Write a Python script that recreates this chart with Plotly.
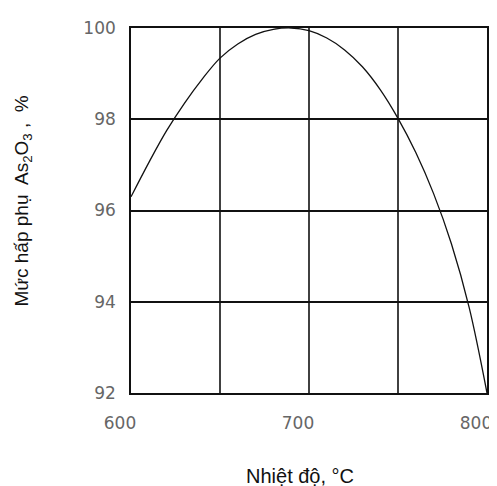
import plotly.graph_objects as go

temperature = [600, 610, 620, 630, 640, 650, 660, 670, 680, 690, 700, 710, 720, 730, 740, 750, 760, 770, 780, 790, 800]
adsorption = [96.3, 97.05, 97.75, 98.35, 98.88, 99.34, 99.65, 99.86, 99.97, 100.0, 99.94, 99.78, 99.52, 99.15, 98.65, 98.02, 97.27, 96.37, 95.27, 93.87, 92.0]

x_ticks = [600, 700, 800]
y_ticks = [92, 94, 96, 98, 100]

fig = go.Figure()
fig.add_trace(go.Scatter(x=temperature, y=adsorption, mode="lines",
                         line=dict(color="#111", width=1.3, shape="spline", smoothing=1.0),
                         showlegend=False, hoverinfo="skip", cliponaxis=False))

tick_font = dict(family="DejaVu Sans, sans-serif", size=17, color="#666")
title_font = dict(family="Liberation Sans, Arial, sans-serif", size=20, color="#111")

fig.update_layout(
    width=489, height=478,
    margin=dict(l=123, r=5, t=20, b=93),
    paper_bgcolor="white", plot_bgcolor="white",
    xaxis=dict(range=[600, 800], tickvals=x_ticks, ticktext=[str(v) for v in x_ticks],
               showgrid=False, zeroline=False, showline=True, linecolor="#111", linewidth=1.6,
               mirror=True, ticks="outside", ticklen=14, tickcolor="rgba(0,0,0,0)",
               ticklabelshift=-11, ticklabeloverflow="allow",
               tickfont=tick_font, fixedrange=True),
    yaxis=dict(range=[92, 100], tickvals=y_ticks, ticktext=[str(v) for v in y_ticks],
               showgrid=True, gridcolor="#111", gridwidth=1.6,
               zeroline=False, showline=True, linecolor="#111", linewidth=1.6,
               mirror=True, ticks="outside", ticklen=10, tickcolor="rgba(0,0,0,0)",
               tickfont=tick_font, fixedrange=True),
)

# vertical grid every 50 °C
for xv in [650, 700, 750]:
    fig.add_shape(type="line", x0=xv, x1=xv, y0=92, y1=100, xref="x", yref="y",
                  line=dict(color="#111", width=1.6), layer="below")

# x title centre ~ (302, 476) on screen, y title centre ~ (21, 201)
fig.add_annotation(text="Nhiệt độ, °C", xref="paper", yref="paper",
                   x=(302 - 131) / 361, y=-(476 - 393) / 365, xanchor="center", yanchor="middle",
                   showarrow=False, font=title_font)
fig.add_annotation(text="Mức hấp phụ  As<sub>2</sub>O<sub>3</sub> ,  %", xref="paper", yref="paper",
                   x=(21 - 131) / 361, y=1 - (201 - 28) / 365, xanchor="center", yanchor="middle",
                   showarrow=False, textangle=-90,
                   font=dict(family="Liberation Sans, Arial, sans-serif", size=19, color="#111"))

fig.write_html("out.html")
